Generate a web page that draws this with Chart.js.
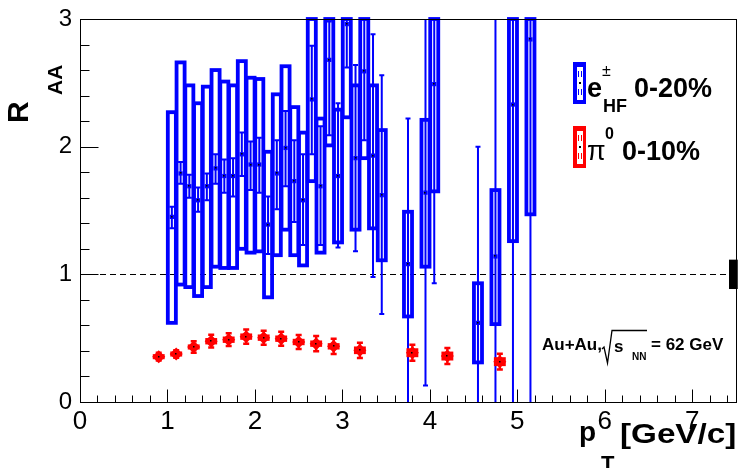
<!DOCTYPE html>
<html>
<head>
<meta charset="utf-8">
<script src="https://cdn.jsdelivr.net/npm/chart.js@4.4.1/dist/chart.umd.min.js"></script>
<style>
  html, body { margin: 0; padding: 0; background: #fff; }
  #grafico { display: block; }
</style>
</head>
<body>
<canvas id="grafico" width="738" height="468"></canvas>
<script>
// e± from heavy flavour, 0-20%
const ptHF = [1.05, 1.15, 1.25, 1.35, 1.45, 1.55, 1.65, 1.75, 1.85, 1.95, 2.05, 2.15, 2.25, 2.35, 2.45, 2.55,
    2.65, 2.75, 2.85, 2.95, 3.05, 3.15, 3.25, 3.35, 3.45, 3.75, 3.95, 4.05, 4.55, 4.75, 4.95, 5.15];
const raaHF = [1.45, 1.79, 1.69, 1.58, 1.69, 1.83, 1.77, 1.77, 1.94, 1.86, 1.86, 1.39, 1.79, 1.99, 1.73, 1.58,
    2.37, 1.69, 2.68, 1.77, 2.96, 1.91, 2.59, 1.93, 1.62, 1.08, 1.64, 2.49, 0.62, 1.14, 2.33, 2.84];
const statLoHF = [1.36, 1.71, 1.60, 1.49, 1.58, 1.71, 1.64, 1.61, 1.77, 1.66, 1.64, 1.16, 1.51, 1.69, 1.41, 1.23,
    1.94, 1.23, 2.09, 1.21, 2.62, 1.18, 2.05, 0.98, 0.69, -0.3, 0.13, 0.93, -0.3, -0.3, -0.3, -0.3];
const statHiHF = [1.53, 1.88, 1.78, 1.68, 1.79, 1.94, 1.90, 1.91, 2.11, 2.04, 2.07, 1.61, 2.05, 2.28, 2.05, 1.94,
    2.79, 2.16, 2.98, 2.34, 3.3, 2.64, 3.2, 2.88, 2.56, 2.22, 3.0, 3.5, 2.0, 3.0, 3.8, 3.8];
const sysLoHF = [0.62, 0.92, 0.90, 0.83, 0.90, 1.06, 1.05, 1.05, 1.20, 1.17, 1.18, 0.82, 1.15, 1.35, 1.15, 1.07,
    1.73, 1.17, 2.01, 1.25, 2.23, 1.35, 1.91, 1.36, 1.11, 0.67, 1.06, 1.65, 0.31, 0.61, 1.26, 1.47];
const sysHiHF = [2.27, 2.66, 2.48, 2.34, 2.47, 2.60, 2.51, 2.48, 2.67, 2.54, 2.53, 1.96, 2.41, 2.63, 2.31, 2.11,
    3.4, 2.22, 3.4, 2.29, 3.4, 2.48, 3.4, 2.48, 2.13, 1.49, 2.21, 3.4, 0.93, 1.66, 3.4, 3.4];

// pi0, 0-10%
const ptPi0 = [0.90, 1.10, 1.30, 1.50, 1.70, 1.90, 2.10, 2.30, 2.50, 2.70, 2.90, 3.20, 3.80, 4.20, 4.80];
const raaPi0 = [0.355, 0.376, 0.431, 0.476, 0.488, 0.512, 0.504, 0.496, 0.470, 0.457, 0.436, 0.405, 0.386, 0.360, 0.316];
const statPi0 = [0.03, 0.03, 0.045, 0.05, 0.05, 0.055, 0.055, 0.055, 0.055, 0.06, 0.06, 0.06, 0.062, 0.062, 0.062];
const sysPi0 = [0.02, 0.02, 0.02, 0.025, 0.025, 0.025, 0.025, 0.025, 0.025, 0.025, 0.025, 0.03, 0.035, 0.035, 0.035];

// normalisation uncertainty box at the right edge
const normX = [7.42, 7.52];
const normY = [0.885, 1.115];

const xTicks = [0, 1, 2, 3, 4, 5, 6, 7];
const yTicks = [0, 1, 2, 3];

const AZUL = '#0000ff';
const VERMELHO = '#ff0000';
const FONTE = '"Liberation Sans", Arial, sans-serif';

function clamp(v, a, b) { return Math.max(a, Math.min(b, v)); }

const pluginDesenho = {
    id: 'desenho',
    beforeDatasetsDraw(chart) {
        const { ctx, chartArea: ca, scales: { x, y } } = chart;
        ctx.save();
        ctx.beginPath();
        ctx.rect(ca.left, ca.top - 2, ca.right - ca.left, ca.bottom - ca.top + 2);
        ctx.clip();

        // linha tracejada em R=1
        ctx.strokeStyle = '#000';
        ctx.lineWidth = 1;
        ctx.setLineDash([6, 4]);
        ctx.beginPath();
        ctx.moveTo(x.getPixelForValue(0), Math.round(y.getPixelForValue(1)) + 0.5);
        ctx.lineTo(x.getPixelForValue(7.5), Math.round(y.getPixelForValue(1)) + 0.5);
        ctx.stroke();
        ctx.setLineDash([]);

        // caixas sistematicas azuis
        ctx.strokeStyle = AZUL;
        ctx.lineWidth = 3.8;
        ptHF.forEach((pt, i) => {
            const x0 = x.getPixelForValue(pt - 0.046);
            const x1 = x.getPixelForValue(pt + 0.046);
            const y0 = y.getPixelForValue(clamp(sysHiHF[i], 0, 3));
            const y1 = y.getPixelForValue(clamp(sysLoHF[i], 0, 3));
            ctx.strokeRect(x0, y0, x1 - x0, y1 - y0);
        });
        ctx.restore();

        ctx.save();
        ctx.beginPath();
        ctx.rect(ca.left, ca.top, ca.right - ca.left, ca.bottom - ca.top);
        ctx.clip();
        // barras de erro estatistico azuis
        ctx.strokeStyle = AZUL;
        ctx.lineWidth = 2;
        ptHF.forEach((pt, i) => {
            const px = x.getPixelForValue(pt);
            const yl = y.getPixelForValue(statLoHF[i]);
            const yh = y.getPixelForValue(statHiHF[i]);
            ctx.beginPath();
            ctx.moveTo(px, yl); ctx.lineTo(px, yh);
            ctx.moveTo(px - 2.5, yl); ctx.lineTo(px + 2.5, yl);
            ctx.moveTo(px - 2.5, yh); ctx.lineTo(px + 2.5, yh);
            ctx.stroke();
        });

        // pi0: caixas e barras
        ctx.fillStyle = VERMELHO;
        ctx.strokeStyle = VERMELHO;
        ctx.lineWidth = 2.5;
        ptPi0.forEach((pt, i) => {
            const px = x.getPixelForValue(pt);
            const x0 = x.getPixelForValue(pt - 0.068);
            const x1 = x.getPixelForValue(pt + 0.068);
            const y0 = y.getPixelForValue(raaPi0[i] + sysPi0[i]);
            const y1 = y.getPixelForValue(raaPi0[i] - sysPi0[i]);
            ctx.fillRect(x0, y0, x1 - x0, y1 - y0);
            const yl = y.getPixelForValue(raaPi0[i] - statPi0[i]);
            const yh = y.getPixelForValue(raaPi0[i] + statPi0[i]);
            ctx.beginPath();
            ctx.moveTo(px, yl); ctx.lineTo(px, yh);
            ctx.moveTo(px - 3, yl); ctx.lineTo(px + 3, yl);
            ctx.moveTo(px - 3, yh); ctx.lineTo(px + 3, yh);
            ctx.stroke();
        });
        ctx.restore();
    },
    afterDatasetsDraw(chart) {
        const { ctx, chartArea: ca, scales: { x, y } } = chart;
        ctx.save();
        // pontinhos pretos no centro dos marcadores
        ctx.fillStyle = '#000';
        ptHF.forEach((pt, i) => {
            if (raaHF[i] > 3) return;
            ctx.fillRect(Math.round(x.getPixelForValue(pt)) - 1, Math.round(y.getPixelForValue(raaHF[i])) - 1, 1.5, 1.5);
        });
        ptPi0.forEach((pt, i) => {
            ctx.fillRect(Math.round(x.getPixelForValue(pt)) - 1, Math.round(y.getPixelForValue(raaPi0[i])) - 1, 1.5, 1.5);
        });

        // moldura
        ctx.strokeStyle = '#000';
        ctx.lineWidth = 1;
        const L = Math.round(ca.left) + 0.5, R = Math.round(ca.right) + 0.5;
        const T = Math.round(ca.top) + 0.5, B = Math.round(ca.bottom) + 0.5;
        ctx.strokeRect(L, T, R - L, B - T);

        // ticks para dentro
        ctx.beginPath();
        for (let v = 0; v <= 7.5001; v += 0.2) {
            const px = Math.round(x.getPixelForValue(v)) + 0.5;
            const major = Math.abs(v - Math.round(v)) < 1e-6;
            ctx.moveTo(px, B); ctx.lineTo(px, B - (major ? 13 : 7));
        }
        for (let v = 0; v <= 3.0001; v += 0.2) {
            const py = Math.round(y.getPixelForValue(v)) + 0.5;
            const major = Math.abs(v - Math.round(v)) < 1e-6;
            ctx.moveTo(L, py); ctx.lineTo(L + (major ? 18 : 9), py);
        }
        ctx.stroke();

        // caixa de normalizacao
        ctx.fillStyle = '#000';
        const nx0 = x.getPixelForValue(normX[0]), nx1 = x.getPixelForValue(normX[1]);
        const ny0 = y.getPixelForValue(normY[1]), ny1 = y.getPixelForValue(normY[0]);
        ctx.fillRect(nx0, ny0, nx1 - nx0, ny1 - ny0);

        // titulos dos eixos
        ctx.fillStyle = '#000';
        ctx.textBaseline = 'alphabetic';
        ctx.textAlign = 'left';
        ctx.save();
        ctx.translate(28, 123);
        ctx.rotate(-Math.PI / 2);
        ctx.font = 'bold 30px ' + FONTE;
        ctx.fillText('R', 0, 0);
        ctx.restore();
        ctx.save();
        ctx.translate(62, 95);
        ctx.rotate(-Math.PI / 2);
        ctx.font = 'bold 21px ' + FONTE;
        ctx.fillText('AA', 0, 0);
        ctx.restore();

        ctx.font = 'bold 28px ' + FONTE;
        ctx.fillText('p', 579, 441);
        ctx.font = 'bold 22px ' + FONTE;
        ctx.fillText('T', 601, 471);
        ctx.save();
        ctx.translate(620, 443);
        ctx.scale(1.23, 1);
        ctx.font = 'bold 27px ' + FONTE;
        ctx.fillText('[GeV/c]', 0, 0);
        ctx.restore();

        // legenda
        ctx.fillStyle = AZUL;
        ctx.fillRect(573, 62, 13, 42);
        ctx.fillStyle = '#fff';
        ctx.fillRect(577, 67, 6, 33);
        ctx.fillStyle = AZUL;
        ctx.fillRect(578, 71, 1, 6); ctx.fillRect(581, 71, 1, 6);
        ctx.fillRect(578, 89, 1, 6); ctx.fillRect(581, 89, 1, 6);
        ctx.fillStyle = '#000';
        ctx.fillRect(579, 82, 2, 2);

        ctx.fillStyle = VERMELHO;
        ctx.fillRect(573, 126, 13, 42);
        ctx.fillStyle = '#fff';
        ctx.fillRect(577, 131, 6, 33);
        ctx.fillStyle = VERMELHO;
        ctx.fillRect(578, 135, 1, 6); ctx.fillRect(581, 135, 1, 6);
        ctx.fillRect(578, 153, 1, 6); ctx.fillRect(581, 153, 1, 6);
        ctx.fillStyle = '#000';
        ctx.fillRect(579, 146, 2, 2);

        ctx.fillStyle = '#000';
        ctx.font = 'bold 27px ' + FONTE;
        ctx.fillText('e', 587, 97);
        ctx.font = '16px ' + FONTE;
        ctx.fillText('\u00b1', 602, 76);
        ctx.font = 'bold 18px ' + FONTE;
        ctx.fillText('HF', 603, 112);
        ctx.font = 'bold 27px ' + FONTE;
        ctx.fillText('0-20%', 634, 97);

        ctx.font = '27px ' + FONTE;
        ctx.fillText('\u03c0', 587, 160);
        ctx.font = 'bold 16px ' + FONTE;
        ctx.fillText('0', 605, 139);
        ctx.font = 'bold 27px ' + FONTE;
        ctx.fillText('0-10%', 622, 160);

        // texto Au+Au
        ctx.font = 'bold 17px ' + FONTE;
        ctx.fillText('Au+Au,', 542, 350);
        ctx.lineWidth = 1.3;
        ctx.beginPath();
        ctx.moveTo(602, 349); ctx.lineTo(604, 347); ctx.lineTo(607.5, 363);
        ctx.lineTo(612, 330.5); ctx.lineTo(647, 330.5);
        ctx.stroke();
        ctx.fillText('s', 614, 352);
        ctx.font = 'bold 10px ' + FONTE;
        ctx.fillText('NN', 632, 360);
        ctx.font = 'bold 17px ' + FONTE;
        ctx.fillText('= 62 GeV', 651, 350);
        ctx.restore();
    }
};

const ctx = document.getElementById('grafico').getContext('2d');
window.graficoRaa = new Chart(ctx, {
    type: 'scatter',
    data: {
        datasets: [
            {
                label: 'e± HF 0-20%',
                data: ptHF.map((pt, i) => ({ x: pt, y: raaHF[i] })),
                pointStyle: 'rect',
                pointRadius: 3,
                backgroundColor: AZUL,
                borderWidth: 0
            },
            {
                label: 'π0 0-10%',
                data: ptPi0.map((pt, i) => ({ x: pt, y: raaPi0[i] })),
                pointStyle: 'rectRot',
                pointRadius: 6.5,
                backgroundColor: VERMELHO,
                borderWidth: 0
            }
        ]
    },
    options: {
        responsive: false,
        animation: false,
        devicePixelRatio: 1,
        layout: { autoPadding: false, padding: { top: 19, right: 2, left: 0, bottom: 0 } },
        plugins: { legend: { display: false }, tooltip: { enabled: false } },
        scales: {
            x: {
                type: 'linear',
                min: 0,
                max: 7.5,
                grid: { display: false, drawTicks: false },
                border: { display: false },
                afterBuildTicks: (s) => { s.ticks = xTicks.map(v => ({ value: v })); },
                afterFit: (s) => { s.height = 66; s.paddingLeft = 0; s.paddingRight = 0; },
                ticks: {
                    color: '#000',
                    padding: 4,
                    maxRotation: 0,
                    font: { family: FONTE, size: 26 }
                }
            },
            y: {
                type: 'linear',
                min: 0,
                max: 3,
                grid: { display: false, drawTicks: false },
                border: { display: false },
                afterBuildTicks: (s) => { s.ticks = yTicks.map(v => ({ value: v })); },
                afterFit: (s) => { s.width = 80; s.paddingTop = 0; s.paddingBottom = 0; },
                ticks: {
                    color: '#000',
                    padding: 8,
                    font: { family: FONTE, size: 24 }
                }
            }
        }
    },
    plugins: [pluginDesenho]
});
</script>
</body>
</html>
